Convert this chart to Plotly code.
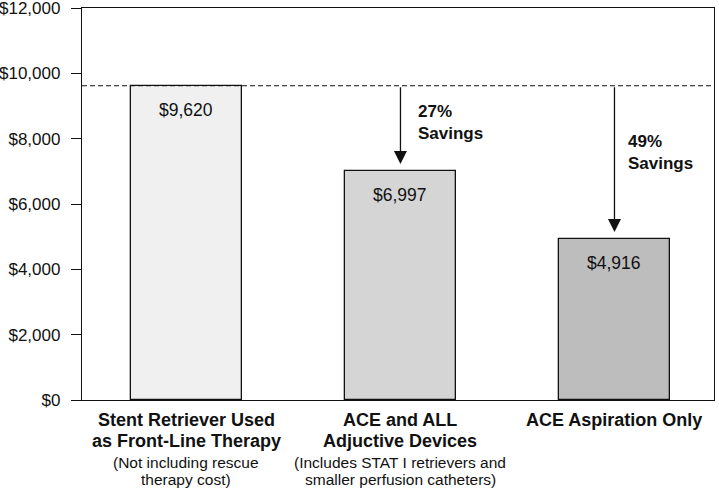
import plotly.graph_objects as go

category_line1 = ["Stent Retriever Used", "ACE and ALL", "ACE Aspiration Only"]
category_line2 = ["as Front-Line Therapy", "Adjuctive Devices", ""]
subtitle_line1 = ["(Not including rescue", "(Includes STAT I retrievers and", ""]
subtitle_line2 = ["therapy cost)", "smaller perfusion catheters)", ""]
costs = [9620, 6997, 4916]
cost_labels = ["$9,620", "$6,997", "$4,916"]
savings_labels = ["", "27%<br>Savings", "49%<br>Savings"]
bar_colors = ["#f0f0f0", "#d5d5d5", "#bdbdbd"]
y_ticks = [0, 2000, 4000, 6000, 8000, 10000, 12000]
y_tick_labels = ["$0", "$2,000", "$4,000", "$6,000", "$8,000", "$10,000", "$12,000"]

FONT = "Liberation Sans, Arial, Helvetica, sans-serif"
INK = "#111111"
xpos = list(range(len(costs)))

fig = go.Figure()
fig.add_trace(go.Bar(
    x=xpos, y=costs, width=0.519,
    marker=dict(color=bar_colors, line=dict(color=INK, width=1.3)),
    hoverinfo="skip", showlegend=False,
))

# value labels near the top inside each bar
for xi, v, lab in zip(xpos, costs, cost_labels):
    fig.add_annotation(x=xi, y=v, xref="x", yref="y", text=lab,
                       showarrow=False, yanchor="top", yshift=-12,
                       font=dict(size=17.5, color=INK, family=FONT))

# category names (bold) and subtitles, one annotation per line for tight leading
line_specs = [
    (category_line1, -20, 18, True),
    (category_line2, -41, 18, True),
    (subtitle_line1, -62, 15.5, False),
    (subtitle_line2, -79, 15.5, False),
]
for lines, shift, size, bold in line_specs:
    for xi, s in zip(xpos, lines):
        if s:
            fig.add_annotation(x=xi, y=0, xref="x", yref="paper",
                               text=f"<b>{s}</b>" if bold else s,
                               showarrow=False, yanchor="middle", yshift=shift,
                               font=dict(size=size, color=INK, family=FONT))

# dashed reference line at baseline cost
fig.add_shape(type="line", xref="paper", x0=0, x1=1, yref="y",
              y0=costs[0], y1=costs[0],
              line=dict(color=INK, width=1.2, dash="5px,3px"))

text_offsets = [0, 200, 320]
text_xshift = [0, 16, 12]
for i in range(1, len(costs)):
    fig.add_annotation(
        x=xpos[i], y=costs[i] + 230, ax=xpos[i], ay=costs[0],
        xref="x", yref="y", axref="x", ayref="y",
        showarrow=True, arrowhead=2, arrowsize=2.0, arrowwidth=1.3,
        arrowcolor=INK, text="",
    )
    fig.add_annotation(
        x=xpos[i], y=(costs[0] + costs[i]) / 2 + text_offsets[i],
        xref="x", yref="y", text=f"<b>{savings_labels[i]}</b>",
        showarrow=False, xanchor="left", align="left", xshift=text_xshift[i],
        font=dict(size=17, color=INK, family=FONT),
    )

fig.update_layout(
    width=719, height=489,
    margin=dict(l=82, r=5, t=8, b=89),
    plot_bgcolor="white", paper_bgcolor="white",
    font=dict(family=FONT, color=INK),
    bargap=0,
)
fig.update_xaxes(
    range=[-0.488, 2.465], tickvals=xpos, showticklabels=False,
    showline=True, linecolor=INK, linewidth=1.3, mirror=True,
    showgrid=False, ticks="", zeroline=False, automargin=False,
)
fig.update_yaxes(
    range=[0, 12000], tickvals=y_ticks, ticktext=y_tick_labels,
    tickfont=dict(size=17, color=INK),
    showline=True, linecolor=INK, linewidth=1.3, mirror=True,
    ticks="outside", ticklen=10, tickcolor=INK, tickwidth=1.3,
    showgrid=False, zeroline=False, automargin=False,
    ticklabelstandoff=7, ticklabeloverflow="allow",
)

fig.write_html("out.html", config={"displayModeBar": False},
               post_script="document.body.style.margin='0';")
